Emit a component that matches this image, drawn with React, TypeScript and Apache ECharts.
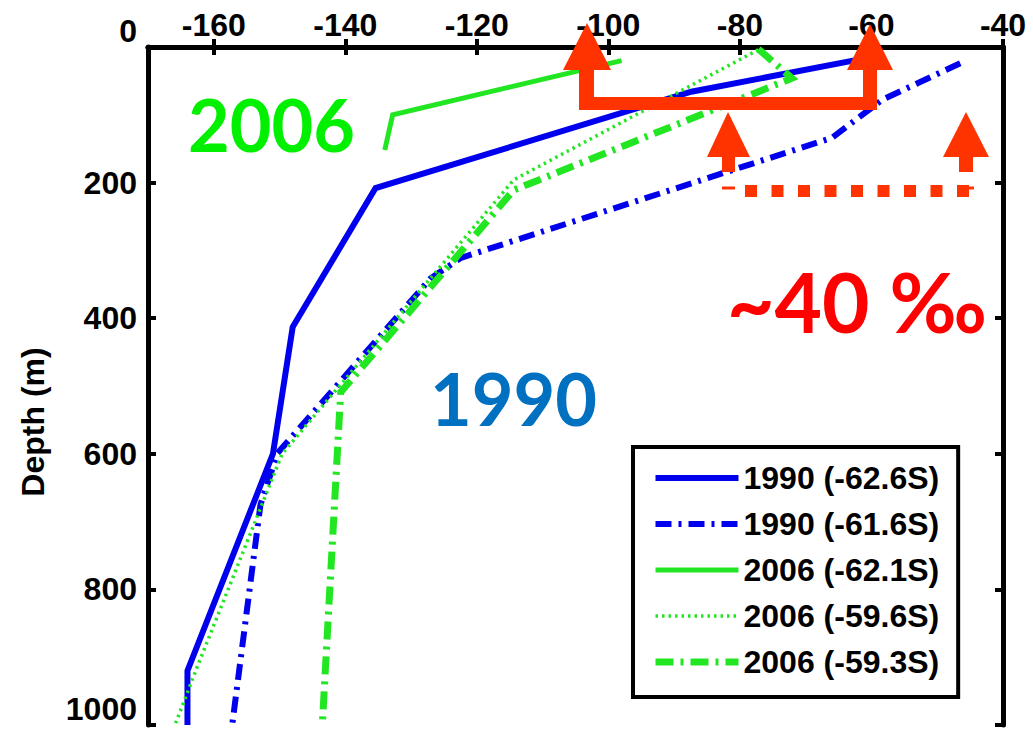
import React, { useEffect, useRef } from "react";
import * as echarts from "echarts";

// Axis ticks
const xTicks = [-160, -140, -120, -100, -80, -60, -40];
const yTicks = [0, 200, 400, 600, 800, 1000];

// Legend labels
const names = ["1990 (-62.6S)", "1990 (-61.6S)", "2006 (-62.1S)", "2006 (-59.6S)", "2006 (-59.3S)"];

// Profiles: [value, depth (m)]
const p1990a: [number, number][] = [
  [-60, 15], [-87.4, 66], [-135.4, 208], [-148, 413], [-151, 600], [-164, 920], [-164, 1000],
];
const p1990b: [number, number][] = [
  [-46.5, 24], [-58.4, 78], [-66, 134], [-122.4, 311], [-127, 341], [-150.3, 599], [-152.9, 675], [-157.2, 1000],
];
const p2006a: [number, number][] = [
  [-98, 20], [-132.8, 100], [-134, 152],
];
const p2006b: [number, number][] = [
  [-77.2, 4], [-114.4, 196], [-149.6, 600], [-162.5, 914], [-165.9, 1000],
];
const p2006c: [number, number][] = [
  [-77.2, 3], [-72.1, 46], [-114.4, 211], [-140.7, 509], [-143.5, 1000],
];

const BLUE = "#0000EE";
const GREEN = "#22E622";
const RED = "#FF3300";

export default function App() {
  const ref = useRef<HTMLDivElement>(null);
  useEffect(() => {
    document.body.style.margin = "0";
    const chart = echarts.init(ref.current!, null, { renderer: "svg" });
    const axisLine = { show: true, lineStyle: { color: "#000", width: 5 } };
    const tick = { show: true, inside: true, length: 8, lineStyle: { color: "#000", width: 4 } };
    const labelFont = { color: "#000", fontWeight: "bold", fontSize: 32, fontFamily: "Liberation Sans" };
    const mk = (name: string, data: [number, number][], color: string, width: number, type: any) => ({
      name,
      type: "line",
      data,
      symbol: "none",
      showSymbol: false,
      lineStyle: { color, width, type, cap: "butt", join: "miter" },
      itemStyle: { color },
    });
    chart.setOption({
      animation: false,
      backgroundColor: "#fff",
      grid: { left: 148, right: 30, top: 47, bottom: 14, containLabel: false, outerBoundsMode: "none" },
      xAxis: [
        {
          type: "value", position: "top", min: -170, max: -40,
          axisLine, axisTick: { ...tick, customValues: xTicks },
          axisLabel: { ...labelFont, margin: 6, customValues: xTicks, formatter: (v: number) => String(v) },
          splitLine: { show: false },
        },
        {
          type: "value", position: "bottom", min: -170, max: -40,
          axisLine, axisTick: { ...tick, customValues: xTicks },
          axisLabel: { show: false, customValues: xTicks },
          splitLine: { show: false },
        },
      ],
      yAxis: [
        {
          type: "value", inverse: true, min: 0, max: 1000, interval: 200, position: "left",
          axisLine, axisTick: { ...tick, customValues: yTicks },
          axisLabel: {
            ...labelFont, margin: 11, customValues: yTicks,
            formatter: (v: number) => String(v),
            verticalAlignMinLabel: "bottom", verticalAlignMaxLabel: "bottom",
          },
          splitLine: { show: false },
        },
        {
          type: "value", inverse: true, min: 0, max: 1000, interval: 200, position: "right",
          axisLine, axisTick: { ...tick, customValues: yTicks },
          axisLabel: { show: false },
          splitLine: { show: false },
        },
      ],
      legend: {
        orient: "vertical",
        left: 633,
        top: 447,
        data: names,
        itemWidth: 83,
        itemHeight: 14,
        itemGap: 10,
        padding: [13, 19, 17, 19],
        borderColor: "#000",
        borderWidth: 4,
        backgroundColor: "#fff",
        itemStyle: { opacity: 0 },
        lineStyle: { width: "inherit" },
        textStyle: { ...labelFont, lineHeight: 36 },
        selectedMode: false,
      },
      series: [
        mk(names[0], p1990a, BLUE, 6, "solid"),
        mk(names[1], p1990b, BLUE, 6, [16, 7, 3, 7]),
        mk(names[2], p2006a, GREEN, 5, "solid"),
        mk(names[3], p2006b, GREEN, 3.5, [2.5, 4]),
        mk(names[4], p2006c, GREEN, 7, [18, 7, 3, 7]),
      ],
      graphic: [
        { type: "polygon", z: 100, shape: { points: [[563, 70], [587, 23], [611, 70]] }, style: { fill: RED } },
        { type: "rect", z: 100, shape: { x: 579, y: 69, width: 15, height: 41 }, style: { fill: RED } },
        { type: "rect", z: 100, shape: { x: 579, y: 97, width: 298, height: 13 }, style: { fill: RED } },
        { type: "rect", z: 100, shape: { x: 863, y: 69, width: 14, height: 41 }, style: { fill: RED } },
        { type: "polygon", z: 100, shape: { points: [[847, 70], [870, 24], [893, 70]] }, style: { fill: RED } },
        { type: "polygon", z: 100, shape: { points: [[707, 157], [728, 112], [750, 157]] }, style: { fill: RED } },
        { type: "rect", z: 100, shape: { x: 722, y: 156, width: 13, height: 16 }, style: { fill: RED } },
        { type: "polygon", z: 100, shape: { points: [[943, 157], [966, 112], [989, 157]] }, style: { fill: RED } },
        { type: "rect", z: 100, shape: { x: 959, y: 156, width: 14, height: 16 }, style: { fill: RED } },
        { type: "line", z: 100, shape: { x1: 745, y1: 191, x2: 970, y2: 191 }, style: { stroke: RED, lineWidth: 12, lineDash: [12, 14.5] } },
        { type: "line", z: 100, shape: { x1: 722, y1: 188, x2: 735, y2: 188 }, style: { stroke: RED, lineWidth: 3 } },
        { type: "line", z: 100, shape: { x1: 964, y1: 188, x2: 974, y2: 188 }, style: { stroke: RED, lineWidth: 3 } },
        { type: "text", z: 100, x: 188, y: 124, style: { text: "2006", fill: "#00F000", font: "bold 72px Lato", verticalAlign: "middle" } },
        { type: "text", z: 100, x: 430, y: 398, style: { text: "1990", fill: "#0070C0", font: "bold 72px Lato", verticalAlign: "middle" } },
        { type: "text", z: 100, x: 727, y: 301, style: { text: "~40 ‰", fill: "#FF0000", font: "bold 82px Lato", verticalAlign: "middle" } },
        { type: "text", z: 100, x: 33, y: 422, rotation: Math.PI / 2, style: { text: "Depth (m)", fill: "#000", font: "bold 32px 'Liberation Sans'", align: "center", verticalAlign: "middle" } },
      ],
    });
    return () => chart.dispose();
  }, []);
  return <div ref={ref} style={{ width: 1033, height: 739 }} />;
}
